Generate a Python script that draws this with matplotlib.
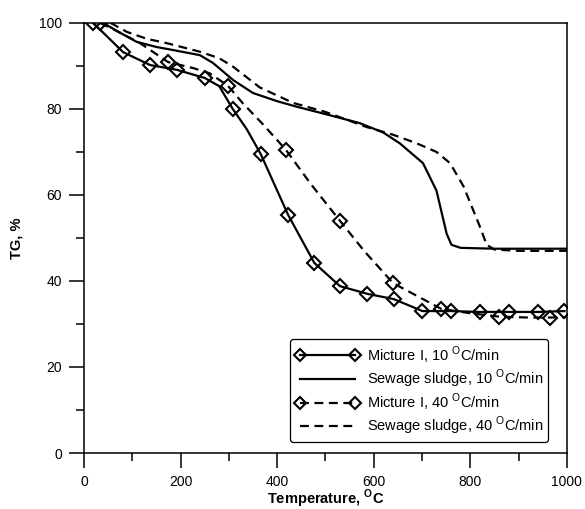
import matplotlib
matplotlib.use("Agg")
import matplotlib.pyplot as plt
from matplotlib.ticker import MultipleLocator

plt.rcParams['font.family'] = ['Liberation Sans', 'DejaVu Sans']
plt.rcParams['mathtext.fontset'] = 'custom'
plt.rcParams['mathtext.rm'] = 'Liberation Sans'
plt.rcParams['mathtext.bf'] = 'Liberation Sans:bold'

# Micture I, 10 C/min (solid + diamonds)
mix10_t = [19, 81, 137, 192, 250, 280, 308, 337, 366, 423, 477, 530, 587, 641, 701, 760, 820, 880, 940, 995]
mix10_tg = [100, 93.2, 90.2, 89.1, 87.2, 85.3, 80.0, 75.3, 69.5, 55.3, 44.2, 38.8, 37.0, 35.8, 33.0, 33.0, 32.8, 32.8, 32.8, 33.0]
mix10_marks = [0, 1, 2, 3, 4, 6, 8, 9, 10, 11, 12, 13, 14, 15, 16, 17, 18, 19]

# Sewage sludge, 10 C/min (solid)
sew10_t = [40, 70, 109, 150, 184, 240, 267, 309, 350, 400, 441, 500, 571, 620, 654, 702, 730, 751, 761, 780, 850, 1000]
sew10_tg = [100, 98, 95.6, 94.4, 93.7, 92.5, 90.7, 86.7, 83.7, 81.8, 80.5, 78.8, 76.7, 74.5, 72, 67.4, 61, 51, 48.4, 47.7, 47.5, 47.5]

# Micture I, 40 C/min (dashed + diamonds)
mix40_t = [33, 70, 116, 174, 226, 260, 298, 329, 370, 418, 470, 530, 580, 640, 690, 740, 800, 860, 920, 965, 1000]
mix40_tg = [100, 98, 95.3, 90.9, 89.5, 88.3, 85.4, 81.3, 76.5, 70.5, 62.5, 54, 47, 39.5, 36.5, 33.5, 32.5, 31.7, 31.5, 31.5, 31.6]
mix40_marks = [0, 3, 6, 9, 11, 13, 15, 17, 19]

# Sewage sludge, 40 C/min (dashed)
sew40_t = [55, 89, 130, 171, 240, 280, 309, 364, 433, 500, 585, 640, 689, 730, 758, 786, 820, 834, 850, 900, 1000]
sew40_tg = [100, 97.9, 96.3, 95.3, 93.3, 91.8, 89.8, 85, 81.4, 79.3, 75.8, 74, 72, 70, 67.4, 62, 52.6, 48.4, 47.3, 47, 47]

fig = plt.figure(figsize=(5.85, 5.09), dpi=100)
ax = fig.add_axes([0.1436, 0.110, 0.8254, 0.845])

mk = dict(marker='D', ms=7.5, mfc='none', mec='black', mew=1.5)
ax.plot(mix10_t, mix10_tg, color='black', lw=1.6, markevery=mix10_marks,
        solid_joinstyle='round', label='Micture I, 10 $^{\\rm O}$C/min', **mk)
ax.plot(sew10_t, sew10_tg, color='black', lw=1.6, solid_joinstyle='round',
        label='Sewage sludge, 10 $^{\\rm O}$C/min')
ax.plot(mix40_t, mix40_tg, color='black', lw=1.6, dashes=(4, 2.5), markevery=mix40_marks,
        label='Micture I, 40 $^{\\rm O}$C/min', **mk)
ax.plot(sew40_t, sew40_tg, color='black', lw=1.6, dashes=(4, 2.5),
        label='Sewage sludge, 40 $^{\\rm O}$C/min')

ax.set_xlim(0, 1000)
ax.set_ylim(0, 100)
ax.xaxis.set_major_locator(MultipleLocator(200))
ax.xaxis.set_minor_locator(MultipleLocator(100))
ax.yaxis.set_major_locator(MultipleLocator(20))
ax.yaxis.set_minor_locator(MultipleLocator(10))
ax.tick_params(which='major', direction='out', length=11, width=1.1, labelsize=10, pad=5)
ax.tick_params(which='minor', direction='out', length=5.5, width=1.1)
ax.tick_params(top=False, right=False)
for s in ax.spines.values():
    s.set_linewidth(1.1)

ax.set_xlabel('Temperature, $^{\\bf O}$C', fontsize=10.5, fontweight='bold', labelpad=-1)
ax.set_ylabel('TG, %', fontsize=10.5, fontweight='bold', labelpad=11)

leg = ax.legend(loc='lower right', bbox_to_anchor=(0.961, 0.026), numpoints=2,
                fontsize=10.5, frameon=True, fancybox=True, edgecolor='black',
                handlelength=4.4, handletextpad=0.5, labelspacing=0.12,
                borderpad=0.35, borderaxespad=0, framealpha=1)
leg.get_frame().set_linewidth(0.9)
for h in leg.legend_handles:
    h.set_markersize(6.5)

fig.savefig('out.png', dpi=100)
